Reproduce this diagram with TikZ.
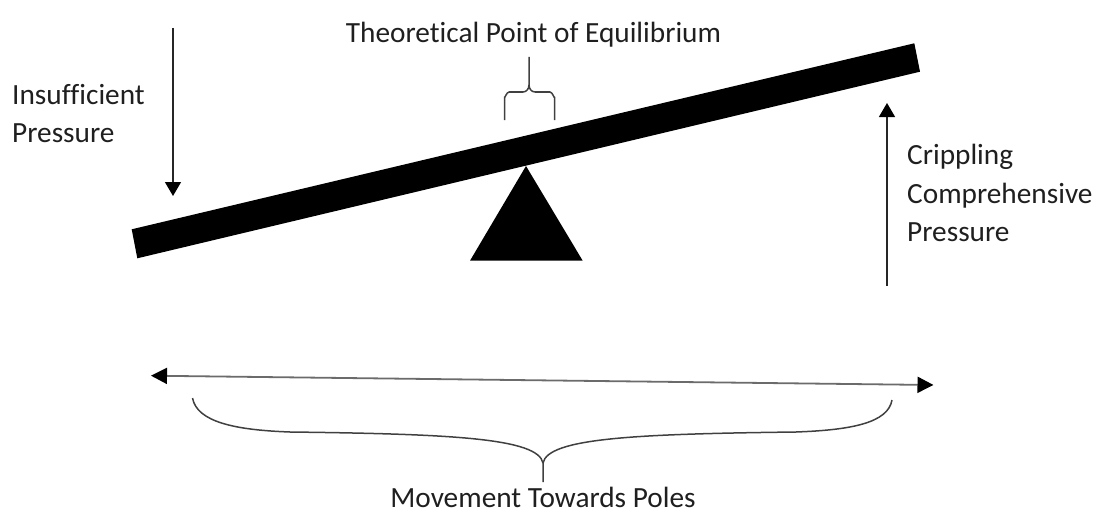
\documentclass[tikz,border=0pt]{standalone}
\usepackage{fontspec}
\setmainfont{Carlito}[Ligatures={NoCommon,NoContextual}]
\usetikzlibrary{arrows.meta}
\tikzset{
  lbl/.style={inner sep=0pt, text=black!88, font=\fontsize{29.3}{38}\selectfont},
  vline/.style={line width=1.4pt, draw=black!85, -{Triangle[width=16pt,length=14pt,color=black]}},
  hline/.style={line width=1.8pt, draw=black!58, {Triangle[width=16pt,length=16pt,color=black]}-{Triangle[width=16pt,length=16pt,color=black]}},
  bracestyle/.style={line width=1.5pt, draw=black!75, line join=round},
}
\begin{document}
\begin{tikzpicture}[x=1pt,y=-1pt]
\useasboundingbox (0,0) rectangle (1098,527);
% beam
\fill[black] (131.7,229.3) -- (914.3,43.3) -- (920,71.7) -- (137.3,258.3) -- cycle;
% fulcrum
\fill[black] (526,166) -- (582.7,260.7) -- (470,260.7) -- cycle;
% labels
\node[lbl, anchor=base] (title) at (533.5,43) {Theoretical Point of Equilibrium};
\node[lbl, anchor=base west] (ins1) at (12,104) {Insufficient};
\node[lbl, anchor=base west] (ins2) at (12,142) {Pressure};
\node[lbl, anchor=base west] (cr1) at (907,164) {Crippling};
\node[lbl, anchor=base west] (cr2) at (907,203) {Comprehensive};
\node[lbl, anchor=base west] (cr3) at (907,241) {Pressure};
\node[lbl, anchor=base] (poles) at (543,507) {Movement Towards Poles};
% arrows
\coordinate (la1) at (173,28);
\coordinate (la2) at (173,196);
\draw[vline] (la1) -- (la2);
\coordinate (ra1) at (887,286);
\coordinate (ra2) at (887,103);
\draw[vline] (ra1) -- (ra2);
\coordinate (ha1) at (151,375.7);
\coordinate (ha2) at (933.5,385);
\draw[hline] (ha1) -- (ha2);
% top brace
\coordinate (tb) at (529,57);
\draw[bracestyle] (504.5,120) -- (504.5,97) to[out=-90,in=180] (509,92) -- (523,92) to[out=0,in=-90] (529,85) -- (tb);
\draw[bracestyle] (554.5,120) -- (554.5,97) to[out=-90,in=0] (550,92) -- (535,92) to[out=180,in=-90] (529,85);
% bottom brace
\coordinate (bb) at (543,482);
\draw[bracestyle] (192.5,398) .. controls (197,422) and (235,430) .. (290,432)
   .. controls (450,434) and (538,438) .. (543,463) -- (bb);
\draw[bracestyle] (892,400) .. controls (888,423) and (851,430) .. (796,432)
   .. controls (636,434) and (548,438) .. (543,463);
\end{tikzpicture}
\end{document}
